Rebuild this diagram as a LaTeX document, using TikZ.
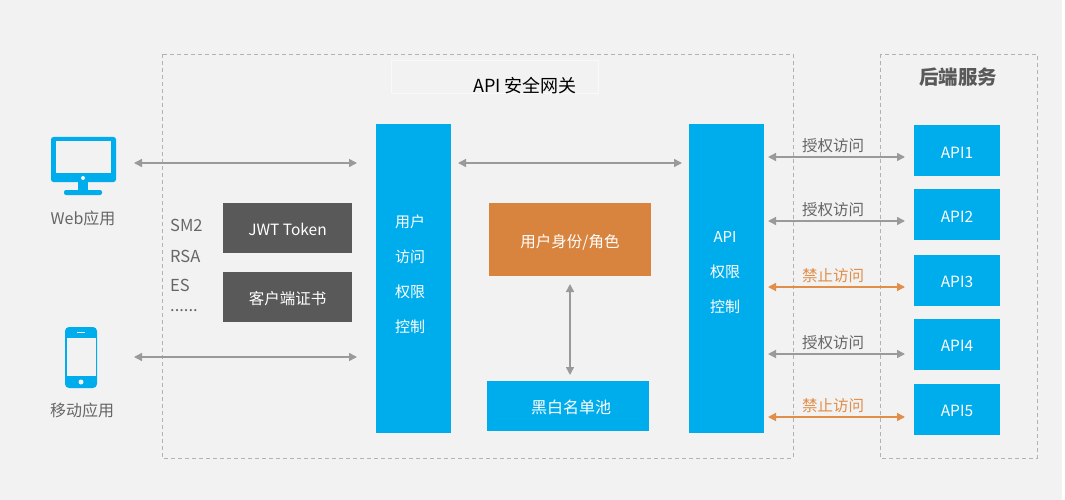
\documentclass[tikz,border=0pt]{standalone}
\usepackage{fontspec}
\setmainfont{Noto Sans CJK SC}
\usepackage{xcolor}
\usetikzlibrary{positioning}
\usetikzlibrary{arrows.meta}
\definecolor{pagegray}{HTML}{F2F2F2}
\definecolor{apiblue}{HTML}{00ADEC}
\definecolor{darkbox}{HTML}{595959}
\definecolor{rolebrown}{HTML}{D8843F}
\definecolor{linegray}{HTML}{9A9A9A}
\definecolor{labelgray}{HTML}{666666}
\definecolor{denyorange}{HTML}{E08E48}
\tikzset{
  box/.style={inner sep=0pt, outer sep=0pt, text=white, text height=15pt, text depth=0pt, font=\fontsize{15.5}{18}\selectfont},
  bluebox/.style={box, fill=apiblue},
  apibox/.style={bluebox, minimum width=86, minimum height=51},
  darkrect/.style={box, fill=darkbox, minimum width=129, minimum height=50},
  frame/.style={draw=gray!60, dashed, dash pattern=on 4pt off 3pt, line width=.8pt},
  twoway/.style={{Triangle[length=8pt,width=8pt]}-{Triangle[length=8pt,width=8pt]}, linegray, line width=1.5pt},
  deny/.style={twoway, denyorange},
  tag/.style={inner sep=0pt, text=labelgray, font=\fontsize{15.5}{18}\selectfont},
  denytag/.style={tag, text=denyorange},
  listtag/.style={tag, anchor=west, font=\fontsize{16.5}{18}\selectfont},
  bartext/.style={inner sep=0pt, text=white, align=center, font=\fontsize{15}{35}\selectfont}
}
\begin{document}
\begin{tikzpicture}[x=1pt,y=-1pt]
\useasboundingbox (0,0) rectangle (1065,500);
\fill[white] (0,0) rectangle (1065,500);
\fill[pagegray] (0,0) rectangle (1062,500);
\draw[frame] (162,54) rectangle (793,458);
\draw[frame] (880,54) rectangle (1037,458);
\draw[white!50!pagegray] (391,60) rectangle (598,93);
\node[inner sep=0pt, font=\fontsize{18}{20}\selectfont] (gatewaytitle) at (525,86) {API 安全网关};
\node[inner sep=0pt, text=darkbox, font=\fontsize{19.5}{20}\selectfont\bfseries] (backendtitle) at (958,77) {后端服务};
% web icon
\fill[apiblue, rounded corners=2.5pt] (51,137) rectangle (116,182);
\fill[pagegray] (56,141) rectangle (111,173);
\fill[pagegray] (83,178) circle(2);
\fill[apiblue] (78,182) rectangle (88,191);
\fill[apiblue, rounded corners=2pt] (64,190) rectangle (102,195);
\node[tag, font=\fontsize{16}{18}\selectfont] (webapp) at (83,218) {Web应用};
% phone icon
\fill[apiblue, rounded corners=4pt] (65,327) rectangle (97,388);
\fill[pagegray] (67,338) rectangle (96,376);
\fill[pagegray] (77,331.5) rectangle (85,333);
\fill[pagegray] (81,382) circle(2.5);
\node[tag, font=\fontsize{16}{18}\selectfont] (mobileapp) at (82,410) {移动应用};
\node[listtag] (sm) at (170,225) {SM2};
\node[listtag] (rsa) at (170,256) {RSA};
\node[listtag] (es) at (170,285) {ES};
\node[listtag] (more) at (170,311) {......};
\node[darkrect] (jwt) at (287.5,228) {JWT Token};
\node[darkrect] (clientcert) at (287.5,297) {客户端证书};
\node[bluebox, minimum width=75, minimum height=309] (userbar) at (413.5,278.5) {};
\node[bartext] (usertext) at (410,274) {用户\\访问\\权限\\控制};
\node[bluebox, minimum width=75, minimum height=309] (apibar) at (726.5,278.5) {};
\node[bartext] (apitext) at (725,273) {API\\权限\\控制};
\node[box, fill=rolebrown, minimum width=162, minimum height=73] (role) at (570,239.5) {用户身份/角色};
\node[bluebox, minimum width=162, minimum height=50, font=\fontsize{16}{18}\selectfont] (blacklist) at (568,406) {\hspace{6pt}黑白名单池};
\node[apibox] (api1) at (957,150.5) {API1};
\node[apibox] (api2) at (957,214.5) {API2};
\node[apibox] (api3) at (957,280) {API3};
\node[apibox] (api4) at (957,344) {API4};
\node[apibox] (api5) at (957,409) {API5};
\coordinate (webport) at (134,163);
\coordinate (mobileport) at (134,357);
\coordinate (usermid) at (451,163);
\coordinate (apiport1) at (764,157);
\coordinate (apiport2) at (764,221);
\coordinate (apiport3) at (764,287);
\coordinate (apiport4) at (764,354);
\coordinate (apiport5) at (764,417);
\draw[twoway, shorten >=19pt] (webport) -- (webport -| userbar.west);
\draw[twoway, shorten >=19pt] (mobileport) -- (mobileport -| userbar.west);
\draw[twoway, shorten <=7pt, shorten >=7pt] (usermid) -- (usermid -| apibar.west);
\draw[twoway, shorten <=8pt, shorten >=6pt] (role.south) -- (role.south |- blacklist.north);
\draw[twoway, shorten <=4pt, shorten >=9pt] (apiport1) -- (apiport1 -| api1.west);
\draw[twoway, shorten <=4pt, shorten >=9pt] (apiport2) -- (apiport2 -| api2.west);
\draw[deny, shorten <=4pt, shorten >=9pt] (apiport3) -- (apiport3 -| api3.west);
\draw[twoway, shorten <=4pt, shorten >=9pt] (apiport4) -- (apiport4 -| api4.west);
\draw[deny, shorten <=4pt, shorten >=9pt] (apiport5) -- (apiport5 -| api5.west);
\node[tag] (grant1) at (833,146) {授权访问};
\node[tag] (grant2) at (833,210) {授权访问};
\node[denytag] (block3) at (833,276) {禁止访问};
\node[tag] (grant4) at (833,343) {授权访问};
\node[denytag] (block5) at (833,406) {禁止访问};
\end{tikzpicture}
\end{document}
